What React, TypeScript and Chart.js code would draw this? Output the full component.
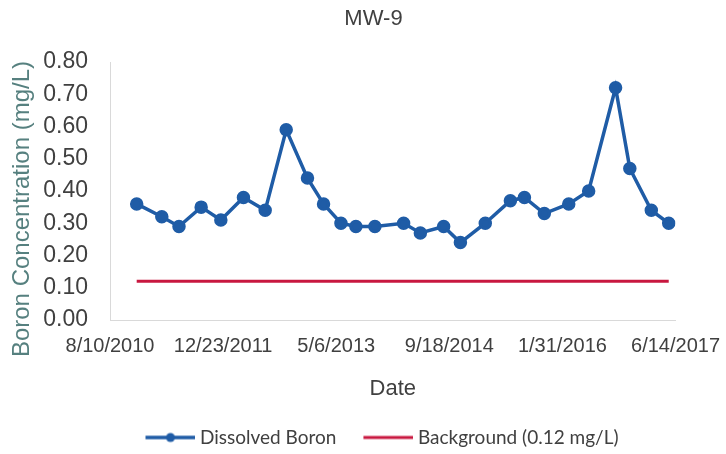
import React, { useEffect, useRef } from "react";
import { Chart, registerables } from "chart.js";

Chart.register(...registerables);

const chartTitle = "MW-9";
const yAxisTitle = "Boron Concentration (mg/L)";
const xAxisTitle = "Date";

const sampleDates = [
  "2010-12-06", "2011-03-27", "2011-06-11", "2011-09-17", "2011-12-13", "2012-03-22",
  "2012-06-26", "2012-09-27", "2012-12-30", "2013-03-11", "2013-05-27", "2013-08-01",
  "2013-10-24", "2014-02-28", "2014-05-13", "2014-08-24", "2014-11-06", "2015-02-24",
  "2015-06-15", "2015-08-16", "2015-11-12", "2016-02-28", "2016-05-26", "2016-09-22",
  "2016-11-24", "2017-02-27", "2017-05-15",
];
const boronValues = [
  0.36, 0.32, 0.29, 0.35, 0.31, 0.38,
  0.34, 0.59, 0.44, 0.36, 0.30, 0.29,
  0.29, 0.30, 0.27, 0.29, 0.24, 0.30,
  0.37, 0.38, 0.33, 0.36, 0.40, 0.72,
  0.47, 0.34, 0.30,
];
const backgroundDates = ["2010-12-06", "2017-05-15"];
const backgroundValues = [0.12, 0.12];

const xTickDates = ["2010-08-10", "2011-12-23", "2013-05-06", "2014-09-18", "2016-01-31", "2017-06-14"];
const xTickLabels = ["8/10/2010", "12/23/2011", "5/6/2013", "9/18/2014", "1/31/2016", "6/14/2017"];
const yTickValues = [0, 0.1, 0.2, 0.3, 0.4, 0.5, 0.6, 0.7, 0.8];

const seriesNames = ["Dissolved Boron", "Background (0.12 mg/L)"];

const BLUE = "#1f5ca6";
const RED = "#c8173f";
const AXIS_FONT = "'Liberation Sans', Arial, sans-serif";

function toSerial(s: string): number {
  const [y, m, d] = s.split("-").map(Number);
  return Date.UTC(y, m - 1, d) / 86400000 + 25569;
}

function makeIcon(color: string, withDot: boolean): HTMLCanvasElement {
  const c = document.createElement("canvas");
  c.width = 72;
  c.height = 14;
  const ctx = c.getContext("2d")!;
  ctx.strokeStyle = color;
  ctx.lineWidth = withDot ? 3.5 : 3;
  ctx.beginPath();
  ctx.moveTo(22, 7);
  ctx.lineTo(72, 7);
  ctx.stroke();
  if (withDot) {
    ctx.fillStyle = color;
    ctx.beginPath();
    ctx.arc(47, 7, 4.5, 0, Math.PI * 2);
    ctx.fill();
  }
  return c;
}

const yTitlePlugin = {
  id: "yTitleCustom",
  afterDraw(chart: any) {
    const ctx = chart.ctx;
    ctx.save();
    ctx.translate(22, 209);
    ctx.rotate(-Math.PI / 2);
    ctx.font = `24px ${AXIS_FONT}`;
    ctx.fillStyle = "#56807f";
    ctx.textAlign = "center";
    ctx.textBaseline = "middle";
    ctx.fillText(yAxisTitle, 0, 0);
    ctx.restore();
  },
};

export default function App() {
  const ref = useRef<HTMLCanvasElement | null>(null);

  useEffect(() => {
    if (!ref.current) return;
    const icons = [makeIcon(BLUE, true), makeIcon(RED, false)];
    const xMin = toSerial(xTickDates[0]);
    const xMax = toSerial(xTickDates[xTickDates.length - 1]);

    const chart = new Chart(ref.current, {
      type: "line",
      data: {
        datasets: [
          {
            label: seriesNames[0],
            data: sampleDates.map((d, i) => ({ x: toSerial(d), y: boronValues[i] })),
            borderColor: BLUE,
            backgroundColor: BLUE,
            borderWidth: 3.5,
            pointRadius: 5,
            pointBackgroundColor: BLUE,
            pointBorderColor: BLUE,
            tension: 0,
          },
          {
            label: seriesNames[1],
            data: backgroundDates.map((d, i) => ({ x: toSerial(d), y: backgroundValues[i] })),
            borderColor: RED,
            backgroundColor: RED,
            borderWidth: 3,
            pointRadius: 0,
            tension: 0,
          },
        ],
      },
      options: {
        responsive: false,
        animation: false,
        layout: { padding: { left: 25, right: 4, top: 0, bottom: -3 } },
        scales: {
          x: {
            type: "linear",
            min: xMin,
            max: xMax,
            afterBuildTicks: (axis: any) => {
              axis.ticks = xTickDates.map((d) => ({ value: toSerial(d) }));
            },
            afterFit: (axis: any) => {
              axis.height = 98;
            },
            grid: { display: false },
            border: { display: true, color: "#d9d9d9", width: 1 },
            ticks: {
              autoSkip: false,
              maxRotation: 0,
              minRotation: 0,
              padding: 6,
              color: "#404040",
              font: { family: AXIS_FONT, size: 20 },
              callback: (_v: any, i: number) => xTickLabels[i] ?? "",
            },
            title: {
              display: true,
              text: xAxisTitle,
              color: "#404040",
              font: { family: AXIS_FONT, size: 22 },
              padding: { top: 14, bottom: 16 },
            },
          },
          y: {
            min: 0,
            max: 0.8,
            afterBuildTicks: (axis: any) => {
              axis.ticks = yTickValues.map((v) => ({ value: v }));
            },
            afterFit: (axis: any) => {
              axis.width = 85;
              axis._computeLabelArea = () => undefined;
            },
            grid: { display: false },
            border: { display: true, color: "#d9d9d9", width: 1 },
            ticks: {
              autoSkip: false,
              padding: 14,
              color: "#404040",
              font: { family: AXIS_FONT, size: 23 },
              callback: (v: any) => Number(v).toFixed(2),
            },
          },
        },
        plugins: {
          title: {
            display: true,
            text: chartTitle,
            color: "#404040",
            font: { family: AXIS_FONT, size: 22, weight: "normal" },
            padding: { top: 6, bottom: 29.6 },
          },
          legend: {
            display: true,
            position: "bottom",
            labels: {
              usePointStyle: true,
              pointStyleWidth: 62,
              padding: 10,
              color: "#404040",
              font: { family: "Lato, sans-serif", size: 19 },
              generateLabels: (c: any) => {
                const items = (Chart as any).defaults.plugins.legend.labels.generateLabels(c);
                items.forEach((it: any, i: number) => {
                  it.pointStyle = icons[i];
                });
                return items;
              },
            },
          },
          tooltip: { enabled: false },
        },
      },
      plugins: [yTitlePlugin],
    } as any);

    return () => chart.destroy();
  }, []);

  return (
    <div style={{ position: "absolute", left: 0, top: 0, width: 726, height: 454, background: "#fff" }}>
      <canvas ref={ref} width={726} height={454} />
    </div>
  );
}
